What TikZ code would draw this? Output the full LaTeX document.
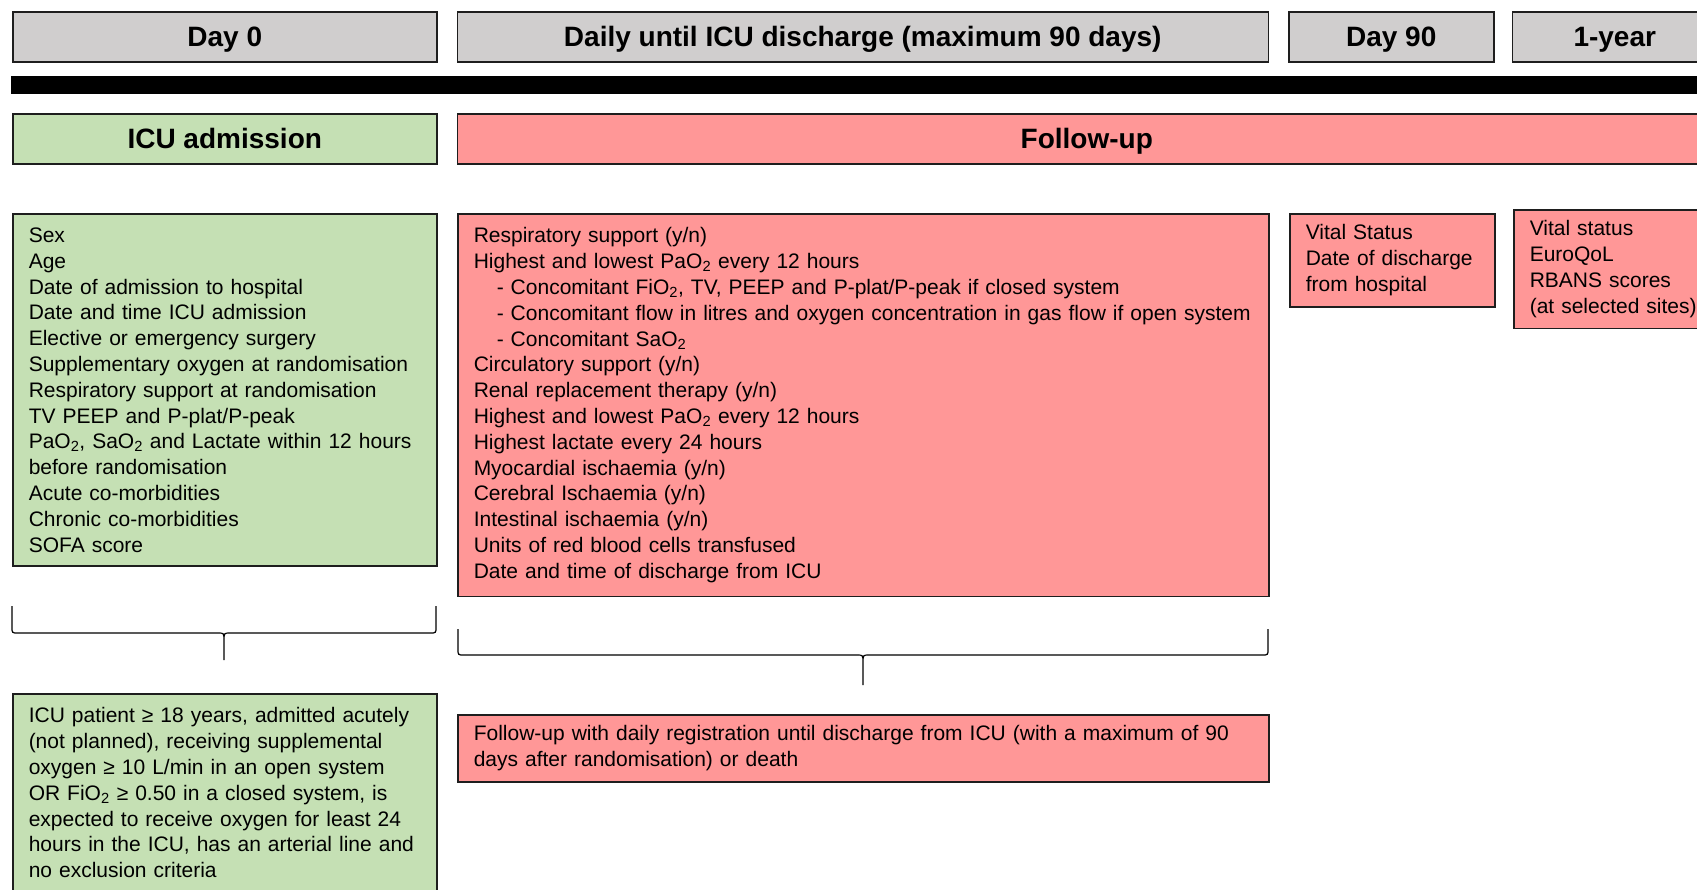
\documentclass[tikz,border=0pt]{standalone}
\usepackage{fontspec}
\setmainfont{Liberation Sans}
\usetikzlibrary{positioning}

\definecolor{hdrgrey}{HTML}{D0CECE}
\definecolor{admitgreen}{HTML}{C5E0B4}
\definecolor{followred}{HTML}{FF9797}
\definecolor{boxedge}{HTML}{1E1E1E}

\tikzset{
  phase/.style={draw=boxedge, line width=1.5pt, minimum height=50pt, inner sep=0pt,
    text height=20pt, text depth=0pt,
    anchor=north west, font=\fontsize{28}{32}\selectfont\bfseries},
  listbox/.style={draw=boxedge, line width=1.5pt, anchor=north west, align=left,
    inner xsep=16pt, inner ysep=14pt, font=\fontsize{21}{25.8}\selectfont},
  bracket/.style={draw=black, line width=1.2pt},
}

\begin{document}
\begin{tikzpicture}[x=1pt, y=-1pt]
    \useasboundingbox (0,0) rectangle (1697,889);

    % time points
    \node[phase, fill=hdrgrey, minimum width=424pt] (day0) at (12,11) {Day 0};
    \node[phase, fill=hdrgrey, minimum width=811pt, right=19pt of day0] (daily) {Daily until ICU discharge (maximum 90 days)};
    \node[phase, fill=hdrgrey, minimum width=205pt, right=19pt of daily] (day90) {Day 90};
    \node[phase, fill=hdrgrey, minimum width=205pt, right=17pt of day90] (year1) {1-year};

    % time line
    \fill[black] (11,76) rectangle (1720,94);

    % phases
    \node[phase, fill=admitgreen, minimum width=424pt] (admission) at (12,113) {ICU admission};
    \node[phase, fill=followred, minimum width=1259pt, right=19pt of admission] (followup) {Follow-up};

    % registered data
    \node[listbox, fill=admitgreen, text width=392pt] (baseline) at (12,213) {Sex\\
        Age\\
        Date of admission to hospital\\
        Date and time ICU admission\\
        Elective or emergency surgery\\
        Supplementary oxygen at randomisation\\
        Respiratory support at randomisation\\
        TV PEEP and P-plat/P-peak\\
        PaO\textsubscript{2}, SaO\textsubscript{2} and Lactate within 12 hours\\
        before randomisation\\
        Acute co-morbidities\\
        Chronic co-morbidities\\
        SOFA score};
    \node[listbox, fill=followred, text width=779pt] (dailydata) at (457,213) {Respiratory support (y/n)\\
        Highest and lowest PaO\textsubscript{2} every 12 hours\\
        \hspace*{23pt}- Concomitant FiO\textsubscript{2}, TV, PEEP and P-plat/P-peak if closed system\\
        \hspace*{23pt}\mbox{- Concomitant flow in litres and oxygen concentration in gas flow if open system}\\
        \hspace*{23pt}- Concomitant SaO\textsubscript{2}\\
        Circulatory support (y/n)\\
        Renal replacement therapy (y/n)\\
        Highest and lowest PaO\textsubscript{2} every 12 hours\\
        Highest lactate every 24 hours\\
        Myocardial ischaemia (y/n)\\
        Cerebral Ischaemia (y/n)\\
        Intestinal ischaemia (y/n)\\
        Units of red blood cells transfused\\
        Date and time of discharge from ICU};
    \node[listbox, fill=followred, text width=173pt, inner ysep=11pt] (day90data) at (1289,213) {Vital Status\\
        Date of discharge\\
        from hospital};
    \node[listbox, fill=followred, text width=173pt, inner ysep=11pt] (year1data) at (1513,209) {Vital status\\
        EuroQoL\\
        RBANS scores\\
        \mbox{(at selected sites)}};

    % braces
    \draw[bracket] (12,606) -- (12,627) .. controls (12,633) .. (18,633) -- (218,633)
        .. controls (224,633) .. (224,641) -- (224,660) -- (224,641)
        .. controls (224,633) .. (230,633) -- (430,633) .. controls (436,633) .. (436,627) -- (436,606);
    \draw[bracket] (458,629) -- (458,649) .. controls (458,655) .. (464,655) -- (857,655)
        .. controls (863,655) .. (863,663) -- (863,685) -- (863,663)
        .. controls (863,655) .. (869,655) -- (1262,655) .. controls (1268,655) .. (1268,649) -- (1268,629);

    % summaries
    \node[listbox, fill=admitgreen, text width=392pt] (criteria) at (12,693) {\mbox{ICU patient ≥ 18 years, admitted acutely}\\
        (not planned), receiving supplemental\\
        oxygen ≥ 10 L/min in an open system\\
        OR FiO\textsubscript{2} ≥ 0.50 in a closed system, is\\
        expected to receive oxygen for least 24\\
        \mbox{hours in the ICU, has an arterial line and}\\
        no exclusion criteria};
    \node[listbox, fill=followred, text width=779pt, inner ysep=11pt] (dailyreg) at (457,714) {Follow-up with daily registration until discharge from ICU (with a maximum of 90\\
        days after randomisation) or death};
\end{tikzpicture}
\end{document}
